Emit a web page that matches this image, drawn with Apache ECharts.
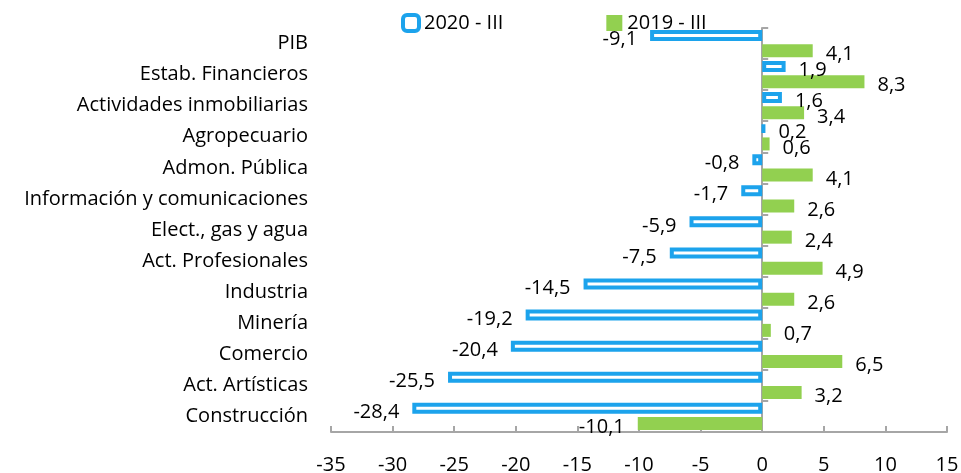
<!DOCTYPE html>
<html>
<head>
<meta charset="utf-8">
<script src="https://cdn.jsdelivr.net/npm/echarts@6/dist/echarts.min.js"></script>
<style>
	html, body { margin: 0; padding: 0; background: #fff; }
	#chart { width: 961px; height: 473px; }
</style>
</head>
<body>
<div id="chart"></div>
<script>
var categories = ['PIB', 'Estab. Financieros', 'Actividades inmobiliarias', 'Agropecuario', 'Admon. Pública',
	'Información y comunicaciones', 'Elect., gas y agua', 'Act. Profesionales', 'Industria', 'Minería',
	'Comercio', 'Act. Artísticas', 'Construcción'];
var serie2020 = [-9.1, 1.9, 1.6, 0.2, -0.8, -1.7, -5.9, -7.5, -14.5, -19.2, -20.4, -25.5, -28.4];
var serie2019 = [4.1, 8.3, 3.4, 0.6, 4.1, 2.6, 2.4, 4.9, 2.6, 0.7, 6.5, 3.2, -10.1];
var nombres = ['2020 - III', '2019 - III'];

var fuente = 'Open Sans';
var tam = 20;
var azul = '#1ca3ec';
var verde = '#92d050';
var gris = '#a6a6a6';

function fmt(v) {
	return v.toFixed(1).replace('.', ',');
}
// etiqueta a la izquierda si es negativo, a la derecha si es positivo
function conEtiqueta(arr) {
	return arr.map(function (v) {
		return {
			value: v,
			label: { position: v < 0 ? 'left' : 'right' }
		};
	});
}

var etiqueta = {
	show: true,
	distance: 13,
	offset: [0, 4],
	color: '#000',
	fontFamily: fuente,
	fontSize: tam,
	formatter: function (p) { return fmt(p.value); }
};

var myChart = echarts.init(document.getElementById('chart'));
var option = {
	backgroundColor: '#fff',
	animation: false,
	legend: {
		data: [
			{ name: nombres[0], icon: 'roundRect', itemStyle: { borderWidth: 4 } },
			{ name: nombres[1], icon: 'rect' }
		],
		left: 396,
		top: 8,
		itemWidth: 16,
		itemHeight: 16,
		itemGap: 103,
		textStyle: { color: '#000', fontFamily: fuente, fontSize: tam }
	},
	grid: {
		left: 331,
		right: 14,
		top: 28,
		bottom: 41,
		containLabel: false,
		outerBoundsMode: 'none'
	},
	xAxis: {
		type: 'value',
		min: -35,
		max: 15,
		interval: 5,
		splitLine: { show: false },
		axisLine: { show: true, lineStyle: { color: gris, width: 2 } },
		axisTick: { show: true, inside: true, length: 6, lineStyle: { color: gris, width: 2 } },
		axisLabel: { color: '#000', fontFamily: fuente, fontSize: tam, margin: 23 }
	},
	yAxis: [
		{
			// solo los nombres de las categorías
			type: 'category',
			inverse: true,
			position: 'left',
			data: categories,
			axisLine: { show: false, onZero: false },
			axisTick: { show: false },
			axisLabel: { color: '#000', fontFamily: fuente, fontSize: tam, margin: 23 }
		},
		{
			// línea vertical en cero
			type: 'category',
			inverse: true,
			position: 'right',
			data: categories,
			axisLine: { show: true, onZero: true, lineStyle: { color: gris, width: 2 } },
			axisTick: { show: true, length: 6, lineStyle: { color: gris, width: 2 } },
			axisLabel: { show: false }
		}
	],
	series: [
		{
			name: nombres[0],
			type: 'bar',
			barWidth: 11,
			barGap: '30%',
			itemStyle: { color: '#fff', borderColor: azul, borderWidth: 4 },
			label: etiqueta,
			data: conEtiqueta(serie2020)
		},
		{
			name: nombres[1],
			type: 'bar',
			barWidth: 13,
			barGap: '30%',
			itemStyle: { color: verde },
			label: etiqueta,
			data: conEtiqueta(serie2019)
		}
	]
};
myChart.setOption(option);
</script>
</body>
</html>
